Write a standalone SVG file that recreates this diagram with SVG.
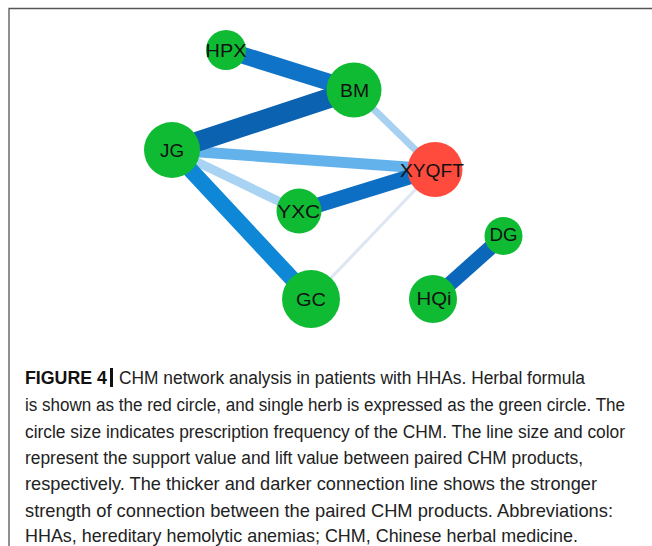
<svg xmlns="http://www.w3.org/2000/svg" width="652" height="546" viewBox="0 0 652 546">
  <style>
    .edge { fill: none; stroke-linecap: butt; }
    .herb { fill: #10bb34; }
    .formula { fill: #ff4b3e; }
    .lbl { font-family: "Liberation Sans", Arial, sans-serif; font-size: 18px; fill: #111; text-anchor: middle; }
    .cap { font-family: "Liberation Sans", Arial, sans-serif; font-size: 19px; fill: #222; }
    .capb { font-family: "Liberation Sans", Arial, sans-serif; font-size: 19px; fill: #111; font-weight: bold; }
  </style>

  <rect x="0" y="0" width="652" height="546" fill="#ffffff"/>

  <!-- frame -->
  <path d="M9 546 V8.5 H652" fill="none" stroke="#555" stroke-width="1.3"/>

  <!-- connectors -->
  <g id="edges">
    <line class="edge" x1="311" y1="299" x2="435" y2="169" stroke="#dde6f2" stroke-width="3"/>
    <line class="edge" x1="354" y1="90" x2="435" y2="169" stroke="#a8d0f0" stroke-width="7"/>
    <line class="edge" x1="172" y1="150" x2="299" y2="211" stroke="#a9d3f3" stroke-width="9"/>
    <line class="edge" x1="172" y1="150" x2="435" y2="169" stroke="#64b2eb" stroke-width="11"/>
    <line class="edge" x1="172" y1="150" x2="311" y2="299" stroke="#0d87d6" stroke-width="16"/>
    <line class="edge" x1="299" y1="211" x2="435" y2="169" stroke="#0d6fc4" stroke-width="15"/>
    <line class="edge" x1="226" y1="50" x2="354" y2="90" stroke="#0f74c8" stroke-width="17"/>
    <line class="edge" x1="172" y1="150" x2="354" y2="90" stroke="#0b62b0" stroke-width="20"/>
    <line class="edge" x1="433" y1="299" x2="503.5" y2="236" stroke="#0b67b9" stroke-width="15"/>
  </g>

  <!-- nodes -->
  <g id="node-HPX">
    <circle class="herb" cx="226" cy="50" r="20"/>
    <text class="lbl" x="226" y="56.5" textLength="41" lengthAdjust="spacingAndGlyphs">HPX</text>
  </g>
  <g id="node-BM">
    <circle class="herb" cx="354" cy="90" r="27.5"/>
    <text class="lbl" x="354.5" y="96.5" textLength="29" lengthAdjust="spacingAndGlyphs">BM</text>
  </g>
  <g id="node-JG">
    <circle class="herb" cx="172" cy="150" r="28"/>
    <text class="lbl" x="172" y="156.5" textLength="24" lengthAdjust="spacingAndGlyphs">JG</text>
  </g>
  <g id="node-XYQFT">
    <circle class="formula" cx="435" cy="169.5" r="27.5"/>
    <text class="lbl" x="432" y="176.5" textLength="64" lengthAdjust="spacingAndGlyphs">XYQFT</text>
  </g>
  <g id="node-YXC">
    <circle class="herb" cx="299" cy="211" r="22.5"/>
    <text class="lbl" x="298.7" y="217.5" textLength="43" lengthAdjust="spacingAndGlyphs">YXC</text>
  </g>
  <g id="node-GC">
    <circle class="herb" cx="311" cy="299" r="29"/>
    <text class="lbl" x="311" y="306" textLength="30" lengthAdjust="spacingAndGlyphs">GC</text>
  </g>
  <g id="node-HQi">
    <circle class="herb" cx="433" cy="299" r="24"/>
    <text class="lbl" x="434" y="304.5" textLength="35" lengthAdjust="spacingAndGlyphs">HQi</text>
  </g>
  <g id="node-DG">
    <circle class="herb" cx="503.5" cy="236" r="19"/>
    <text class="lbl" x="503.5" y="240.5" textLength="28" lengthAdjust="spacingAndGlyphs">DG</text>
  </g>

  <!-- caption: first four lines are set condensed -->
  <g id="caption">
    <rect x="110" y="368" width="3" height="19" fill="#111"/>
    <g transform="scale(0.88 1)">
      <text class="capb" x="28.41" y="384" textLength="93.18" lengthAdjust="spacingAndGlyphs">FIGURE 4</text>
      <text class="cap" x="135.23" y="384" textLength="529.55" lengthAdjust="spacingAndGlyphs">CHM network analysis in patients with HHAs. Herbal formula</text>
      <text class="cap" x="28.41" y="411" textLength="681.82" lengthAdjust="spacingAndGlyphs">is shown as the red circle, and single herb is expressed as the green circle. The</text>
      <text class="cap" x="28.41" y="438" textLength="681.82" lengthAdjust="spacingAndGlyphs">circle size indicates prescription frequency of the CHM. The line size and color</text>
      <text class="cap" x="28.41" y="464" textLength="634.09" lengthAdjust="spacingAndGlyphs">represent the support value and lift value between paired CHM products,</text>
    </g>
    <text class="cap" x="25" y="490" textLength="572" lengthAdjust="spacingAndGlyphs">respectively. The thicker and darker connection line shows the stronger</text>
    <text class="cap" x="25" y="517" textLength="588" lengthAdjust="spacingAndGlyphs">strength of connection between the paired CHM products. Abbreviations:</text>
    <text class="cap" x="25" y="542" textLength="553" lengthAdjust="spacingAndGlyphs">HHAs, hereditary hemolytic anemias; CHM, Chinese herbal medicine.</text>
  </g>
</svg>
